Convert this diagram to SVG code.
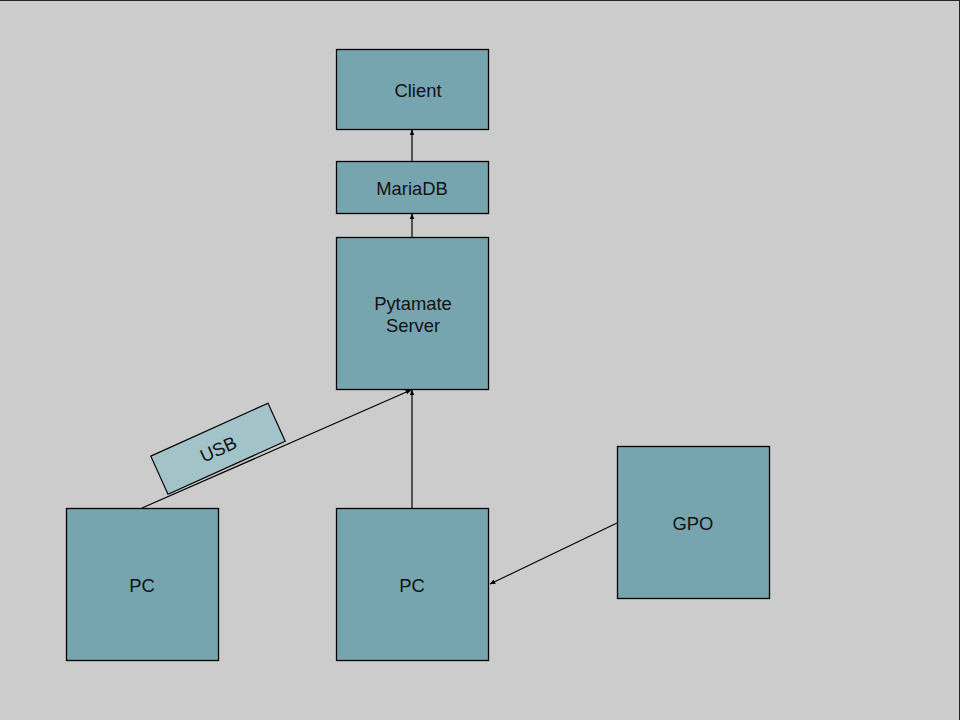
<svg xmlns="http://www.w3.org/2000/svg" width="960" height="720" viewBox="0 0 960 720">
<style>
.node{fill:#76a5af;stroke:#000;stroke-width:1.3}
.lbl{font-family:"Liberation Sans",Arial,sans-serif;font-size:18.4px;fill:#111;text-anchor:middle}
.edge{stroke:#000;stroke-width:1.2;fill:none;marker-end:url(#arr)}
</style>
<defs>
<marker id="arr" viewBox="0 0 10 10" refX="9" refY="5" markerWidth="6" markerHeight="6" markerUnits="userSpaceOnUse" orient="auto">
<path d="M0,1 L10,5 L0,9 Z" fill="#000"/>
</marker>
</defs>
<rect x="0" y="0" width="960" height="720" fill="#cccccc"/>
<line x1="0" y1="0.5" x2="960" y2="0.5" stroke="#222" stroke-width="1"/>
<line x1="959.5" y1="0" x2="959.5" y2="720" stroke="#222" stroke-width="1"/>
<g id="connectors">
<line class="edge" x1="412" y1="161" x2="412" y2="130"/>
<line class="edge" x1="412" y1="237" x2="412" y2="214"/>
<line class="edge" x1="412" y1="508" x2="412" y2="390"/>
<line class="edge" x1="142" y1="508" x2="411" y2="390"/>
<line class="edge" x1="617" y1="523" x2="490" y2="584"/>
</g>
<g id="client"><rect class="node" x="336.5" y="49.5" width="152" height="80"/><text class="lbl" x="418" y="97">Client</text></g>
<g id="mariadb"><rect class="node" x="336.5" y="161.5" width="152" height="52"/><text class="lbl" x="412" y="195">MariaDB</text></g>
<g id="server"><rect class="node" x="336.5" y="237.5" width="152" height="152"/><text class="lbl" x="413" y="310">Pytamate</text><text class="lbl" x="413" y="332">Server</text></g>
<g id="pc1"><rect class="node" x="66.5" y="508.5" width="152" height="152"/><text class="lbl" x="142" y="592">PC</text></g>
<g id="pc2"><rect class="node" x="336.5" y="508.5" width="152" height="152"/><text class="lbl" x="412" y="592">PC</text></g>
<g id="gpo"><rect class="node" x="617.5" y="446.5" width="152" height="152"/><text class="lbl" x="693" y="530">GPO</text></g>
<g id="usb" transform="translate(218,448.7) rotate(-24.3)">
<rect x="-64.3" y="-20.9" width="128.6" height="41.8" fill="#a2c4c9" stroke="#000" stroke-width="1.2"/>
<text class="lbl" x="0" y="7">USB</text>
</g>
</svg>
